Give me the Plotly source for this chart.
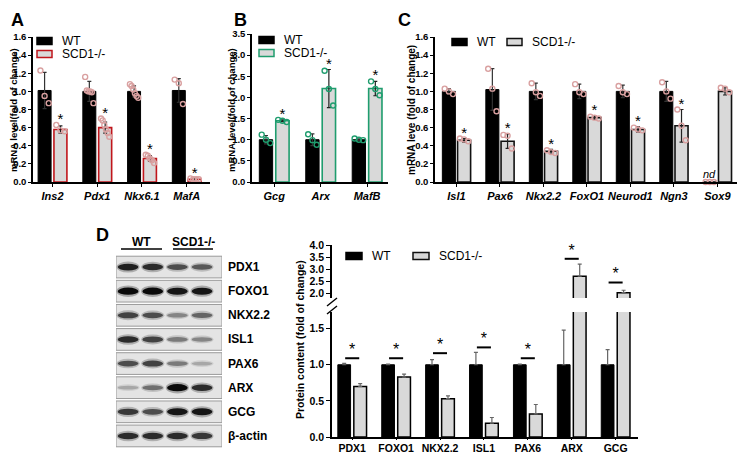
import plotly.graph_objects as go
import numpy as np

# the page body adds an 8px offset; figure is sized to fill the rest of the window
OFF_PX = 8
W, H = 745 - OFF_PX, 455 - OFF_PX
def fx(px): return (px - OFF_PX) / W
def fy(py): return 1 - (py - OFF_PX) / H

FONT = "Liberation Sans, Arial, Helvetica, sans-serif"

# ---------------- data ----------------
A_genes = ["Ins2", "Pdx1", "Nkx6.1", "MafA"]
A_wt = [1.01, 1.0, 1.0, 1.01]
A_wt_err = [0.20, 0.11, 0.06, 0.13]
A_ko = [0.58, 0.60, 0.26, 0.03]
A_ko_err = [0.04, 0.06, 0.03, 0.01]
A_wt_pts = [[1.23, 0.95, 0.87], [1.16, 1.01, 1.0, 1.0, 0.99, 0.87],
            [1.08, 1.06, 1.02, 0.98, 0.95, 0.93], [1.13, 1.09, 0.86]]
A_ko_pts = [[0.63, 0.57, 0.56], [0.70, 0.68, 0.63, 0.58, 0.54, 0.50],
            [0.30, 0.29, 0.26, 0.24, 0.21], [0.04, 0.03, 0.03, 0.03]]

B_genes = ["Gcg", "Arx", "MafB"]
B_wt = [1.0, 1.0, 1.0]
B_wt_err = [0.10, 0.14, 0.02]
B_ko = [1.45, 2.21, 2.21]
B_ko_err = [0.02, 0.45, 0.17]
B_wt_pts = [[1.12, 1.0, 0.92], [1.13, 0.99, 0.88], [1.03, 1.0, 0.99]]
B_ko_pts = [[1.47, 1.45, 1.42], [2.63, 2.20, 1.81], [2.38, 2.20, 2.05]]

C_genes = ["Isl1", "Pax6", "Nkx2.2", "FoxO1", "Neurod1", "Ngn3", "Sox9"]
C_wt = [1.0, 1.02, 1.0, 1.0, 1.0, 1.0, 0.0]
C_wt_err = [0.03, 0.23, 0.09, 0.08, 0.07, 0.11, 0.0]
C_ko = [0.46, 0.45, 0.34, 0.71, 0.58, 0.62, 1.0]
C_ko_err = [0.02, 0.08, 0.02, 0.02, 0.03, 0.18, 0.04]
C_wt_pts = [[1.03, 1.0, 0.97], [1.25, 1.03, 0.78], [1.09, 0.99, 0.95], [1.08, 0.99, 0.97],
            [1.06, 0.99, 0.97], [1.10, 1.0, 0.92], [0.0, 0.0, 0.0]]
C_ko_pts = [[0.48, 0.47, 0.45], [0.52, 0.51, 0.37], [0.35, 0.33, 0.32], [0.72, 0.71, 0.70],
            [0.60, 0.58, 0.57], [0.80, 0.62, 0.46], [1.04, 1.03, 0.99]]

D_proteins = ["PDX1", "FOXO1", "NKX2.2", "ISL1", "PAX6", "ARX", "GCG"]
D_wt = [1.0, 1.0, 1.0, 1.0, 1.0, 1.0, 1.0]
D_wt_err = [0.02, 0.01, 0.07, 0.17, 0.01, 0.48, 0.21]
D_ko = [0.70, 0.83, 0.53, 0.19, 0.32, 2.71, 2.03]
D_ko_err = [0.04, 0.04, 0.04, 0.08, 0.13, 0.50, 0.10]
D_sig = [1.09, 1.09, 1.16, 1.24, 1.09, 3.43, 2.45]

blot_rows = ["PDX1", "FOXO1", "NKX2.2", "ISL1", "PAX6", "ARX", "GCG", "β-actin"]
blot_lanes = ["WT", "WT", "SCD1-/-", "SCD1-/-"]
band_intensity = [
    [0.90, 0.85, 0.70, 0.65],
    [1.00, 1.00, 0.95, 0.95],
    [0.75, 0.70, 0.45, 0.60],
    [0.85, 0.75, 0.50, 0.45],
    [0.70, 0.75, 0.50, 0.30],
    [0.30, 0.55, 1.00, 0.85],
    [0.80, 0.70, 0.95, 0.95],
    [0.85, 0.85, 0.85, 0.80],
]

fig = go.Figure()
shapes = []
annos = []

KO_FILL = "#d9d9d9"


def add_bar_panel(xa, ya, wt, wt_err, ko, ko_err, wt_pts, ko_pts, ko_line, dot_color,
                  off, bw, star_pad):
    idx = np.arange(len(wt))
    fig.add_trace(go.Bar(x=idx - off, y=wt, width=bw, xaxis=xa, yaxis=ya, showlegend=False,
                         marker=dict(color="black", line=dict(color="black", width=1)),
                         error_y=dict(type="data", array=wt_err, color="#333", thickness=1.2, width=2)))
    fig.add_trace(go.Bar(x=idx + off, y=ko, width=bw, xaxis=xa, yaxis=ya, showlegend=False,
                         marker=dict(color=KO_FILL, line=dict(color=ko_line, width=1.6)),
                         error_y=dict(type="data", array=ko_err, color="#222", thickness=1.2, width=2)))
    xs, ys = [], []
    for sign, groups in ((-1, wt_pts), (1, ko_pts)):
        for i, pts in enumerate(groups):
            m = len(pts)
            spread = np.linspace(-1, 1, m) * bw * 0.32 if m > 1 else np.array([0.0])
            for s, v in zip(spread, pts):
                xs.append(i + sign * off + s)
                ys.append(v)
    fig.add_trace(go.Scatter(x=xs, y=ys, mode="markers", xaxis=xa, yaxis=ya, showlegend=False,
                             cliponaxis=False,
                             marker=dict(symbol="circle-open", size=5, color=dot_color,
                                         line=dict(width=1.4, color=dot_color))))
    sy = [max(ko[i] + ko_err[i], max(ko_pts[i])) + star_pad for i in idx]
    keep = [i for i in idx if wt[i] > 0]
    fig.add_trace(go.Scatter(x=[i + off for i in keep], y=[sy[i] for i in keep], mode="text",
                             text=["*"] * len(keep), xaxis=xa, yaxis=ya, showlegend=False,
                             cliponaxis=False, textposition="middle center",
                             textfont=dict(family=FONT, size=15, color="black")))


def yaxis_cfg(domain, rng, vals, anchor, size=9.5, ticklen=3):
    return dict(domain=domain, range=rng, tickvals=vals, ticktext=[f"{v:.1f}" for v in vals],
                ticks="outside", ticklen=ticklen, tickwidth=1.2, tickcolor="black", automargin=False,
                showline=True, linecolor="black", linewidth=1.5, showgrid=False, zeroline=False,
                tickfont=dict(family=FONT, size=size, color="black", weight="bold"), anchor=anchor)


def xaxis_cfg(domain, rng, labels, anchor, italic=True, size=11, ticklen=3):
    if italic:
        tt = [f"<b><i>{g}</i></b>" for g in labels]
    else:
        tt = [f"<b>{g}</b>" for g in labels]
    return dict(domain=domain, range=rng, tickvals=list(range(len(labels))), ticktext=tt,
                ticks="outside", ticklen=ticklen, tickwidth=1.2, tickcolor="black", automargin=False,
                showline=True, linecolor="black", linewidth=1.5, showgrid=False, zeroline=False,
                tickfont=dict(family=FONT, size=size, color="black"), anchor=anchor)


def text_at(px, py, text, size=12, xanchor="center", angle=0):
    annos.append(dict(x=fx(px), y=fy(py), xref="paper", yref="paper", text=text, showarrow=False,
                      xanchor=xanchor, yanchor="middle", textangle=angle,
                      font=dict(family=FONT, size=size, color="black")))


# Panel A
add_bar_panel("x", "y", A_wt, A_wt_err, A_ko, A_ko_err, A_wt_pts, A_ko_pts,
              "#c0161c", "#d9a0a0", 0.177, 0.29, 0.05)
# Panel B
add_bar_panel("x2", "y2", B_wt, B_wt_err, B_ko, B_ko_err, B_wt_pts, B_ko_pts,
              "#1f9d6e", "#1f9d6e", 0.177, 0.287, 0.11)
# Panel C
add_bar_panel("x3", "y3", C_wt, C_wt_err, C_ko, C_ko_err, C_wt_pts, C_ko_pts,
              "#111111", "#d9a0a0", 0.175, 0.30, 0.05)

# Panel D chart (broken axis: lower y5, upper y6)
d_idx = np.arange(len(D_proteins))
D_OFF, D_BW = 0.182, 0.29
for xa, ya in (("x5", "y5"), ("x6", "y6")):
    fig.add_trace(go.Bar(x=d_idx - D_OFF, y=D_wt, width=D_BW, xaxis=xa, yaxis=ya, showlegend=False,
                         marker=dict(color="black", line=dict(color="black", width=1)),
                         error_y=dict(type="data", symmetric=False, array=D_wt_err,
                                      arrayminus=[0] * len(D_wt), color="#666", thickness=1.2, width=2)))
    fig.add_trace(go.Bar(x=d_idx + D_OFF, y=D_ko, width=D_BW, xaxis=xa, yaxis=ya, showlegend=False,
                         marker=dict(color=KO_FILL, line=dict(color="black", width=1.5)),
                         error_y=dict(type="data", symmetric=False, array=D_ko_err,
                                      arrayminus=[0] * len(D_ko), color="#666", thickness=1.2, width=2)))
LOW_TOP, UP_BOT = 1.73, 1.81
for ya, xa, cond in (("y5", "x5", lambda v: v < LOW_TOP), ("y6", "x6", lambda v: v > UP_BOT)):
    lx, ly, tx, ty = [], [], [], []
    pad = 0.1 if ya == "y5" else 0.3
    for i, s in enumerate(D_sig):
        if cond(s):
            lx += [i - 0.16, i + 0.16, None]
            ly += [s, s, None]
            tx.append(i)
            ty.append(s + pad)
    fig.add_trace(go.Scatter(x=lx, y=ly, mode="lines", xaxis=xa, yaxis=ya, showlegend=False,
                             line=dict(color="black", width=2), cliponaxis=False))
    fig.add_trace(go.Scatter(x=tx, y=ty, mode="text", text=["*"] * len(tx), xaxis=xa, yaxis=ya,
                             showlegend=False, cliponaxis=False,
                             textfont=dict(family=FONT, size=16, color="black")))

# Blot panel
for r, row in enumerate(band_intensity):
    shapes.append(dict(type="rect", xref="x4", yref="y4", x0=-0.49, x1=3.81, y0=r - 0.45, y1=r + 0.45,
                       fillcolor="#e4e4e4", line=dict(color="#9a9a9a", width=1), layer="below"))
    for l, v in enumerate(row):
        g1 = int(255 - 110 * v)
        shapes.append(dict(type="circle", xref="x4", yref="y4", x0=l - 0.47, x1=l + 0.47,
                           y0=r - (0.10 + 0.14 * v), y1=r + (0.10 + 0.14 * v),
                           fillcolor=f"rgb({g1-30},{g1-30},{g1-30})", line=dict(width=0), opacity=0.55))
        g2 = int(235 - 225 * v)
        shapes.append(dict(type="circle", xref="x4", yref="y4", x0=l - 0.42, x1=l + 0.42,
                           y0=r - (0.05 + 0.10 * v), y1=r + (0.05 + 0.10 * v),
                           fillcolor=f"rgb({g2},{g2},{g2})", line=dict(width=0)))
    annos.append(dict(x=fx(226), xref="paper", y=r, yref="y4", text=f"<b>{blot_rows[r]}</b>",
                      showarrow=False, xanchor="left", yanchor="middle",
                      font=dict(family=FONT, size=12, color="black")))

text_at(141, 242, "<b>WT</b>", 12)
text_at(193, 242, "<b>SCD1-/-</b>", 12)
for x0, x1 in ((121, 162), (173, 213)):
    shapes.append(dict(type="line", xref="paper", yref="paper", x0=fx(x0), x1=fx(x1), y0=fy(249), y1=fy(249),
                       line=dict(color="black", width=1.5)))

for y0, y1 in ((306, 298), (314, 306)):
    shapes.append(dict(type="line", xref="paper", yref="paper", x0=fx(327), x1=fx(337), y0=fy(y0), y1=fy(y1),
                       line=dict(color="black", width=1.5)))


def legend_item(xb, yc, fill, edge, label, wbox=15, hbox=7):
    shapes.append(dict(type="rect", xref="paper", yref="paper", x0=fx(xb), x1=fx(xb + wbox),
                       y0=fy(yc + hbox / 2), y1=fy(yc - hbox / 2), fillcolor=fill,
                       line=dict(color=edge, width=1.5)))
    text_at(xb + wbox + 8, yc, label, 12, xanchor="left")

legend_item(37, 41, "black", "black", "WT")
legend_item(37, 54, KO_FILL, "#c0161c", "SCD1-/-")
legend_item(259, 40, "black", "black", "WT")
legend_item(259, 53, KO_FILL, "#1f9d6e", "SCD1-/-")
legend_item(452, 42, "black", "black", "WT")
legend_item(507, 42, KO_FILL, "#111111", "SCD1-/-")
legend_item(346, 256, "black", "black", "WT", wbox=16)
legend_item(413, 256, KO_FILL, "#111111", "SCD1-/-", wbox=16)

annos.append(dict(x=6 - 0.175, y=0.09, xref="x3", yref="y3", text="<i>nd</i>", showarrow=False,
                  xanchor="center", yanchor="middle", font=dict(family=FONT, size=11, color="black")))

for letter, px, py in (("A", 17, 20), ("B", 240, 20), ("C", 404, 20), ("D", 102, 235)):
    text_at(px, py, f"<b>{letter}</b>", 18)

for txt, px, py, sz in (("mRNA level(fold of change)", 13, 110, 9.5),
                        ("mRNA level(fold of change)", 231, 110, 9.5),
                        ("mRNA leve (fold of change)", 411, 110, 10),
                        ("Protein content (fold of change)", 300, 340, 10.5)):
    text_at(px, py, f"<b>{txt}</b>", sz, angle=-90)

layout = dict(
    width=W, height=H, autosize=False, margin=dict(l=0, r=0, t=0, b=0, pad=0, autoexpand=False),
    paper_bgcolor="white", plot_bgcolor="white", barmode="overlay", showlegend=False,
    xaxis=xaxis_cfg([fx(33), fx(210)], [-0.436, 3.52], A_genes, "y"),
    yaxis=yaxis_cfg([fy(182), fy(37)], [0, 1.6], [0, 0.2, 0.4, 0.6, 0.8, 1.0, 1.2, 1.4, 1.6], "x"),
    xaxis2=xaxis_cfg([fx(252), fx(388)], [-0.478, 2.45], B_genes, "y2"),
    yaxis2=yaxis_cfg([fy(182), fy(34)], [0, 3.5], [0, 0.5, 1.0, 1.5, 2.0, 2.5, 3.0, 3.5], "x2"),
    xaxis3=xaxis_cfg([fx(435), fx(740)], [-0.494, 6.52], C_genes, "y3"),
    yaxis3=yaxis_cfg([fy(182), fy(37)], [0, 1.6], [0, 0.2, 0.4, 0.6, 0.8, 1.0, 1.2, 1.4, 1.6], "x3"),
    xaxis4=dict(domain=[fx(116), fx(222)], range=[-0.49, 3.81], visible=False, anchor="y4"),
    yaxis4=dict(domain=[fy(448), fy(255)], range=[7.5, -0.5], visible=False, anchor="x4"),
    xaxis5=xaxis_cfg([fx(332), fx(638)], [-0.46, 6.51], D_proteins, "y5", italic=False, size=10.5, ticklen=1),
    yaxis5=yaxis_cfg([fy(437), fy(312)], [0, LOW_TOP], [0, 0.5, 1.0, 1.5], "x5", size=10.5, ticklen=4),
    xaxis6=dict(domain=[fx(332), fx(638)], range=[-0.46, 6.51], visible=False, anchor="y6", matches="x5"),
    yaxis6=yaxis_cfg([fy(298), fy(245)], [UP_BOT, 4.0], [2.0, 2.5, 3.0, 3.5, 4.0], "x6", size=10.5, ticklen=4),
    shapes=shapes, annotations=annos,
)
fig.update_layout(**layout)
fig.write_html("out.html")
